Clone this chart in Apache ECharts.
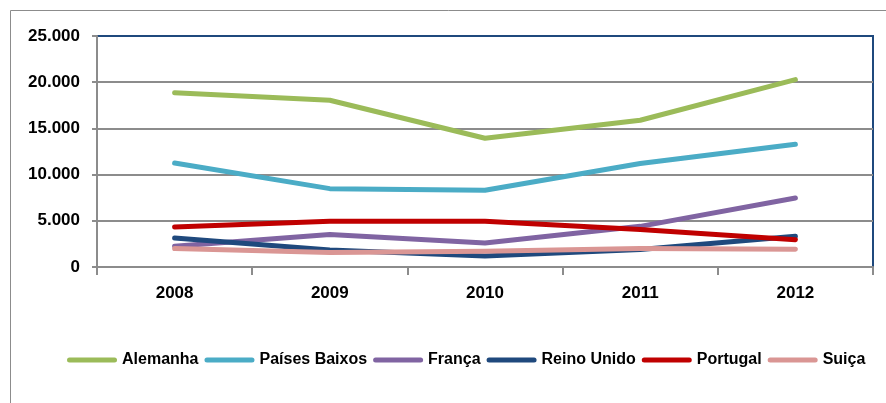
<!DOCTYPE html>
<html>
<head>
<meta charset="utf-8">
<script src="https://cdn.jsdelivr.net/npm/echarts@6/dist/echarts.min.js"></script>
<style>
  html, body { margin: 0; padding: 0; background: #fff; }
  #chart { width: 886px; height: 403px; }
</style>
</head>
<body>
<div id="chart"></div>
<script>
// Years on the category axis
const years = ['2008', '2009', '2010', '2011', '2012'];

// One value array per country
const alemanha = [18870, 18050, 13930, 15880, 20280];
const paisesBaixos = [11250, 8480, 8300, 11200, 13280];
const franca = [2250, 3520, 2600, 4400, 7470];
const reinoUnido = [3150, 1850, 1200, 1900, 3330];
const portugal = [4320, 4960, 4960, 4060, 2960];
const suica = [1990, 1580, 1700, 2000, 1930];

// Value axis range
const yMin = 0;
const yMax = 25000;
const yStep = 5000;

const seriesDefs = [
  { name: 'Alemanha', data: alemanha, color: '#9BBB59' },
  { name: 'Países Baixos', data: paisesBaixos, color: '#4BACC6' },
  { name: 'França', data: franca, color: '#8064A2' },
  { name: 'Reino Unido', data: reinoUnido, color: '#1F497D' },
  { name: 'Portugal', data: portugal, color: '#C00000' },
  { name: 'Suiça', data: suica, color: '#DA9694' }
];

const FONT = 'Liberation Sans';
const capsule = 'path://M2.5,0 L47.5,0 A2.5,2.5 0 0 1 47.5,5 L2.5,5 A2.5,2.5 0 0 1 2.5,0 Z';

function fmtThousands(v) {
  return String(v).replace(/\B(?=(\d{3})+(?!\d))/g, '.');
}

const chart = echarts.init(document.getElementById('chart'), null, { renderer: 'canvas' });

chart.setOption({
  animation: false,
  backgroundColor: '#ffffff',
  graphic: [{
    type: 'rect',
    shape: { x: 10.5, y: 10.5, width: 1000, height: 600 },
    style: { fill: 'none', stroke: '#8c8c8c', lineWidth: 1 },
    silent: true,
    z: -10
  }],
  grid: {
    left: 97, top: 36, width: 776, height: 231,
    show: true, borderColor: '#1F497D', borderWidth: 2, backgroundColor: 'transparent'
  },
  legend: {
    left: 62, top: 347,
    itemWidth: 50, itemHeight: 5, itemGap: 6,
    icon: capsule,
    textStyle: { fontFamily: FONT, fontWeight: 'bold', fontSize: 16, color: '#000' },
    data: seriesDefs.map(s => s.name)
  },
  xAxis: {
    type: 'category',
    data: years,
    boundaryGap: true,
    axisLine: { lineStyle: { color: '#8c8c8c', width: 2 } },
    axisTick: { show: true, length: 8, interval: 0, lineStyle: { color: '#8c8c8c', width: 2 } },
    axisLabel: { fontFamily: FONT, fontWeight: 'bold', fontSize: 17, color: '#000', margin: 18 },
    splitLine: { show: false }
  },
  yAxis: {
    type: 'value',
    min: yMin, max: yMax, interval: yStep,
    axisLine: { show: true, lineStyle: { color: '#8c8c8c', width: 2 } },
    axisTick: { show: true, length: 5, lineStyle: { color: '#8c8c8c', width: 2 } },
    axisLabel: {
      fontFamily: FONT, fontWeight: 'bold', fontSize: 17, color: '#000', margin: 17,
      formatter: fmtThousands
    },
    splitLine: {
      show: true,
      lineStyle: { color: ['#8c8c8c', '#8c8c8c', '#8c8c8c', '#8c8c8c', '#8c8c8c', '#1F497D'], width: 2 }
    }
  },
  series: seriesDefs.map(s => ({
    name: s.name,
    type: 'line',
    data: s.data,
    color: s.color,
    showSymbol: false,
    symbol: 'none',
    lineStyle: { width: 5, color: s.color, cap: 'round', join: 'round' },
    emphasis: { disabled: true }
  }))
});
</script>
</body>
</html>
